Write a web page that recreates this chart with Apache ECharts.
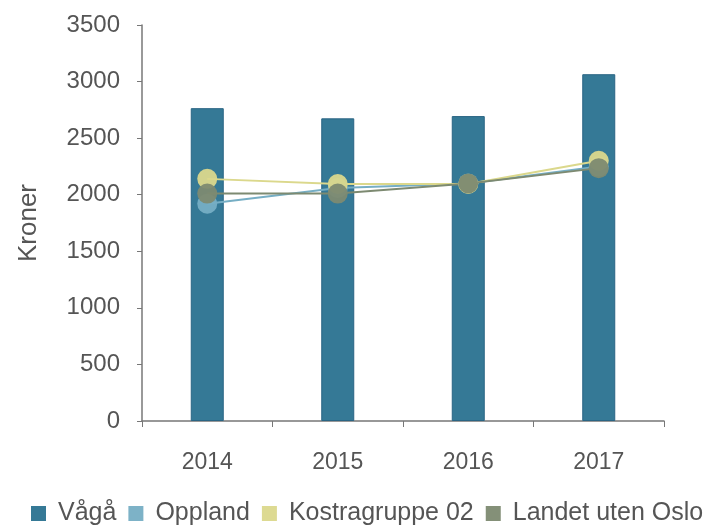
<!DOCTYPE html>
<html>
<head>
<meta charset="utf-8">
<script src="https://cdn.jsdelivr.net/npm/echarts@6/dist/echarts.min.js"></script>
<style>
  html, body { margin: 0; padding: 0; background: #fff; }
  #chart { width: 725px; height: 529px; }
</style>
</head>
<body>
<div id="chart"></div>
<script>
var years = ['2014', '2015', '2016', '2017'];
var vaga = [2765, 2675, 2695, 3065];
var oppland = [1920, 2060, 2100, 2250];
var kostra = [2140, 2095, 2095, 2300];
var landet = [2010, 2010, 2100, 2235];
var yTicks = [0, 500, 1000, 1500, 2000, 2500, 3000, 3500];

var textColor = '#555';
var font = 'Liberation Sans';

function lineSeries(name, data, color) {
    return {
        name: name,
        type: 'line',
        data: data,
        symbol: 'circle',
        symbolSize: 20,
        lineStyle: { color: color, width: 2 },
        itemStyle: { color: color, opacity: 0.95 },
        z: 3
    };
}

var myChart = echarts.init(document.getElementById('chart'));
var option = {
    animation: false,
    textStyle: { fontFamily: font },
    grid: {
        left: 142,
        right: 61,
        top: 25,
        bottom: 108
    },
    legend: {
        bottom: -2,
        left: 26,
        itemWidth: 15,
        itemHeight: 15,
        itemGap: 12,
        icon: 'rect',
        itemStyle: { borderWidth: 0 },
        textStyle: { color: textColor, fontSize: 25, fontFamily: font, padding: [0, 0, 0, 7] },
        data: ['Vågå', 'Oppland', 'Kostragruppe 02', 'Landet uten Oslo']
    },
    xAxis: {
        type: 'category',
        data: years,
        axisLine: { lineStyle: { color: '#777', width: 1.5 } },
        axisTick: { show: true, length: 6, lineStyle: { color: '#777' } },
        axisLabel: { color: textColor, fontSize: 23, margin: 30 }
    },
    yAxis: {
        type: 'value',
        min: yTicks[0],
        max: yTicks[yTicks.length - 1],
        interval: 500,
        name: 'Kroner',
        nameLocation: 'middle',
        nameGap: 100,
        nameTextStyle: { color: textColor, fontSize: 26, fontFamily: font },
        axisLine: { show: true, lineStyle: { color: '#777', width: 1.5 } },
        axisTick: { show: true, length: 5, lineStyle: { color: '#777' } },
        axisLabel: {
            color: textColor,
            fontSize: 24,
            margin: 22,
            formatter: function (v) { return String(v); }
        },
        splitLine: { show: false }
    },
    series: [
        {
            name: 'Vågå',
            type: 'bar',
            data: vaga,
            barWidth: 33,
            itemStyle: { color: '#357996', borderColor: '#2a6584', borderWidth: 1 }
        },
        lineSeries('Oppland', oppland, '#76aec4'),
        lineSeries('Kostragruppe 02', kostra, '#dbd88c'),
        lineSeries('Landet uten Oslo', landet, '#7d8a71')
    ]
};
myChart.setOption(option);
</script>
</body>
</html>
